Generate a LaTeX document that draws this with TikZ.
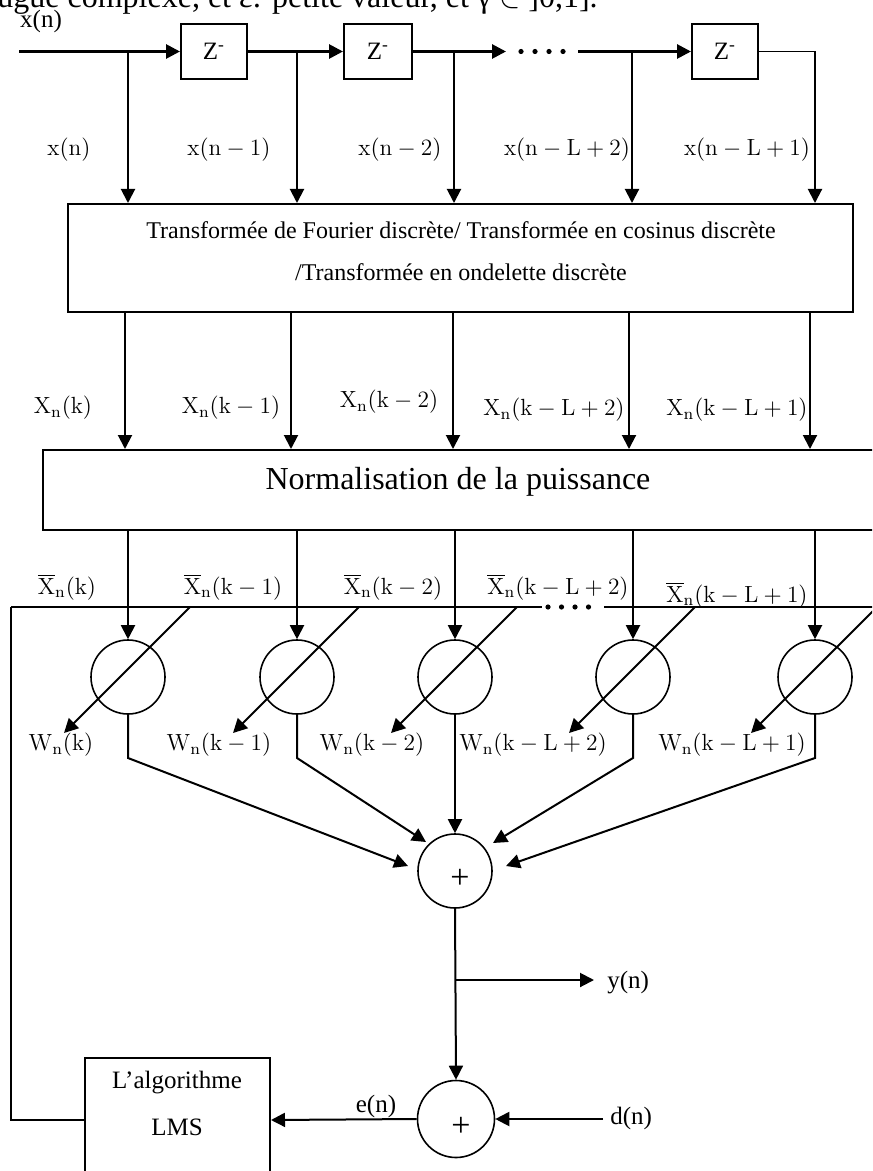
\RequirePackage{fix-cm}
\documentclass[tikz,border=0pt]{standalone}
\usepackage{fontspec}
\newfontfamily\tnr{Liberation Serif}
\usetikzlibrary{arrows.meta,calc}
\newcommand\lb[1]{\ensuremath{\mathrm{#1}}}
\tikzset{
  box/.style={draw,line width=1pt,inner sep=0pt},
  sumc/.style={draw,circle,line width=0.8pt,minimum size=37pt,inner sep=0pt},
  arrowed/.style={-{Triangle[length=7pt,width=7pt]}},
  arr/.style={line width=1pt,arrowed},
  chain/.style={line width=1.4pt},
  lab/.style={font=\fontsize{11.7}{13}\selectfont,inner sep=0pt},
  tnrt/.style={font=\tnr\fontsize{12.5}{14}\selectfont,inner sep=0pt},
  plus/.style={font=\tnr\fontsize{17}{18}\selectfont,inner sep=0pt},
}
\begin{document}
\begin{tikzpicture}[x=0.5pt,y=-0.5pt]
\useasboundingbox (0,0) rectangle (872,1171);
\clip (0,0) rectangle (872,1171);
\fill[white] (0,0) rectangle (872,1171);

% cut-off text at the top
\node[anchor=base west,font=\tnr\fontsize{16}{18}\selectfont,inner sep=0pt] (toptext) at (-3,8)
  {ugue complexe, et ε: petite valeur, et γ $\in$ ]0,1].};
\node[tnrt] (xin) at (41,21) {x(n)};

% delay chain
\node[box,minimum width=33pt,minimum height=27.5pt,tnrt] (Z1) at (214,51.5) {Z\textsuperscript{-}};
\node[box,minimum width=34pt,minimum height=27.5pt,tnrt] (Z2) at (378,51.5) {Z\textsuperscript{-}};
\node[box,minimum width=33pt,minimum height=27.5pt,tnrt] (Z3) at (725,51.5) {Z\textsuperscript{-}};
\coordinate (in) at (19,51.5);
\coordinate (t1) at (128,51.5);
\coordinate (t2) at (297,51.5);
\coordinate (t3) at (454,51.5);
\coordinate (t4) at (632,51.5);
\coordinate (t5) at (815,51.5);
\coordinate (dotsL) at (506,51.5);
\coordinate (dotsR) at (578,51.5);
\draw[chain,arrowed] (in) -- (Z1.west);
\draw[chain,arrowed] (Z1.east) -- (Z2.west);
\draw[chain,arrowed] (Z2.east) -- (dotsL);
\foreach \i in {0,1,2,3} \fill ($(dotsL)+(15+14*\i,0)$) circle (2.6);
\draw[chain,arrowed] (dotsR) -- (Z3.west);
\draw[line width=0.7pt] (Z3.east) -- (t5);

% DFT block
\node[box,minimum width=392.5pt,minimum height=54pt] (DFT) at (460.5,258) {};
\node[font=\tnr\fontsize{12}{21}\selectfont,inner sep=0pt,align=center] (dfttext) at (461,251)
  {Transformée de Fourier discrète/ Transformée en cosinus discrète\\/Transformée en ondelette discrète};
\foreach \t in {t1,t2,t3,t4,t5} \draw[arr] (\t) -- (DFT.north -| \t);

\node[lab] (lx1) at (69,150) {\lb{x(n)}};
\node[lab] (lx2) at (229,150) {\lb{x(n-1)}};
\node[lab] (lx3) at (400,150) {\lb{x(n-2)}};
\node[lab] (lx4) at (567,150) {\lb{x(n-L+2)}};
\node[lab] (lx5) at (747,150) {\lb{x(n-L+1)}};

% Normalisation block
\node[box,minimum width=418.5pt,minimum height=40pt] (NORM) at (461.5,490) {};
\node[font=\tnr\fontsize{16}{18}\selectfont,inner sep=0pt] (normtext) at (458,482) {Normalisation de la puissance};
\foreach \x in {125,291,453,629,810} \draw[arr] (DFT.south -| \x,0) -- (NORM.north -| \x,0);

\node[lab] (lX1) at (63,408) {\lb{X_n(k)}};
\node[lab] (lX2) at (231,408) {\lb{X_n(k-1)}};
\node[lab] (lX3) at (389,402) {\lb{X_n(k-2)}};
\node[lab] (lX4) at (554,410) {\lb{X_n(k-L+2)}};
\node[lab] (lX5) at (737,410) {\lb{X_n(k-L+1)}};

% weight circles
\node[sumc] (C1) at (128,677) {};
\node[sumc] (C2) at (297,677) {};
\node[sumc] (C3) at (455,677) {};
\node[sumc] (C4) at (633,677) {};
\node[sumc] (C5) at (815,677) {};
\foreach \c in {C1,C2,C3,C4,C5} {
  \draw[arr] (NORM.south -| \c) -- (\c.north);
  \draw[arr] ($(\c)+(62,-70)$) -- ($(\c)+(-64,56)$);
}

% bar line
\coordinate (barL) at (11,607);
\coordinate (barG1) at (542,607);
\coordinate (barG2) at (604,607);
\coordinate (barR) at (874,607);
\draw[line width=1pt] (barL) -- (barG1);
\draw[line width=1pt] (barG2) -- (barR);
\foreach \i in {0,1,2,3} \fill ($(barG1)+(6+13.5*\i,0)$) circle (2.6);

\node[lab] (lb1) at (67,587) {\lb{\overline{X}_n(k)}};
\node[lab] (lb2) at (233,587) {\lb{\overline{X}_n(k-1)}};
\node[lab] (lb3) at (393,587) {\lb{\overline{X}_n(k-2)}};
\node[lab] (lb4) at (558,587) {\lb{\overline{X}_n(k-L+2)}};
\node[lab] (lb5) at (737,595) {\lb{\overline{X}_n(k-L+1)}};

\node[lab] (lw1) at (61,745) {\lb{W_n(k)}};
\node[lab] (lw2) at (219,745) {\lb{W_n(k-1)}};
\node[lab] (lw3) at (372,745) {\lb{W_n(k-2)}};
\node[lab] (lw4) at (533,745) {\lb{W_n(k-L+2)}};
\node[lab] (lw5) at (732,745) {\lb{W_n(k-L+1)}};

% summation
\node[sumc] (S) at (455,871) {};
\node[plus] (splus) at (460,879) {+};
\coordinate (k1) at (128,758);
\coordinate (k2) at (297,758);
\coordinate (k4) at (633,758);
\coordinate (k5) at (815,758);
\coordinate (s1) at (408,866);
\coordinate (s2) at (426,842);
\coordinate (s4) at (493,843);
\coordinate (s5) at (506,866);
\draw[arr] (C1.south) -- (k1) -- (s1);
\draw[arr] (C2.south) -- (k2) -- (s2);
\draw[arr] (C3.south) -- (S.north);
\draw[arr] (C4.south) -- (k4) -- (s4);
\draw[arr] (C5.south) -- (k5) -- (s5);

% output and error
\node[sumc,minimum size=38.5pt] (S2) at (456,1119) {};
\node[plus] (s2plus) at (461,1127) {+};
\draw[arr] (S.south) -- (S2.north);
\coordinate (br) at (455,980);
\coordinate (yout) at (594,980);
\draw[arr] (br) -- (yout);
\node[tnrt,anchor=west] (ylab) at (607,983) {y(n)};

\node[box,minimum width=92.5pt,minimum height=62pt] (LMS) at (177.5,1120) {};
\node[tnrt] (lms1) at (177,1083) {L’algorithme};
\node[tnrt] (lms2) at (177,1127) {LMS};

\coordinate (dn) at (603,1119);
\draw[arr] (dn) -- (S2.east);
\node[tnrt,anchor=west] (dlab) at (610,1118) {d(n)};
\draw[arr] (S2.west) -- (LMS.east);
\node[tnrt] (elab) at (376,1106) {e(n)};

\draw[line width=1pt] (barL) |- (LMS.west);
\end{tikzpicture}
\end{document}
